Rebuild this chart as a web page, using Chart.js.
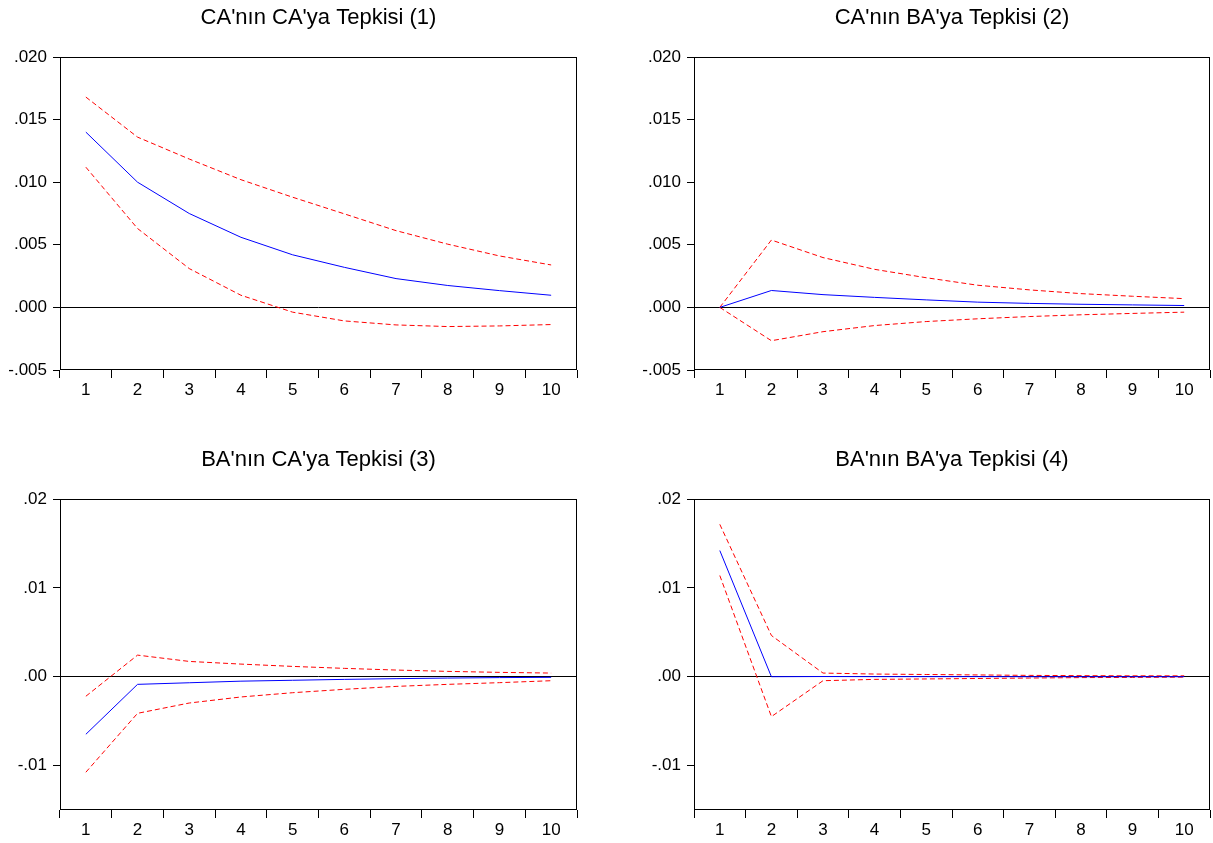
<!DOCTYPE html>
<html>
<head>
<meta charset="utf-8">
<script src="https://cdn.jsdelivr.net/npm/chart.js@4"></script>
<style>
  html, body { margin: 0; background: #fff; overflow: hidden; }
  .panel { position: absolute; }
</style>
</head>
<body>
<div class="panel" style="left:0px;top:0px;width:580px;height:410px"><canvas id="c1"></canvas></div>
<div class="panel" style="left:634px;top:0px;width:579px;height:410px"><canvas id="c2"></canvas></div>
<div class="panel" style="left:0px;top:442px;width:580px;height:408px"><canvas id="c3"></canvas></div>
<div class="panel" style="left:634px;top:442px;width:579px;height:408px"><canvas id="c4"></canvas></div>
<script>
// periods
const steps = ["1", "2", "3", "4", "5", "6", "7", "8", "9", "10"];

// tick labels of the y axes
const ticksTop = [-0.005, 0, 0.005, 0.01, 0.015, 0.02];
const ticksBottom = [-0.01, 0, 0.01, 0.02];

// CA'nın CA'ya Tepkisi
const caCa = [0.0140, 0.0100, 0.0075, 0.0056, 0.0042, 0.0032, 0.0023, 0.00175, 0.00134, 0.00097];
const caCaUp = [0.0168, 0.0136, 0.01185, 0.0102, 0.0088, 0.00747, 0.00613, 0.00505, 0.00411, 0.00339];
const caCaLow = [0.0112, 0.0063, 0.0031, 0.00097, -0.00038, -0.00108, -0.0014, -0.00153, -0.00148, -0.00137];

// CA'nın BA'ya Tepkisi
const caBa = [0, 0.00135, 0.00102, 0.0008, 0.0006, 0.00042, 0.00032, 0.00025, 0.0002, 0.00015];
const caBaUp = [0, 0.00538, 0.00398, 0.00304, 0.00237, 0.00177, 0.0014, 0.0011, 0.00089, 0.0007];
const caBaLow = [0, -0.00266, -0.00194, -0.00145, -0.00113, -0.00091, -0.00073, -0.00059, -0.00048, -0.00038];

// BA'nın CA'ya Tepkisi
const baCa = [-0.00648, -0.00086, -0.00068, -0.0005, -0.0004, -0.0003, -0.00022, -0.00015, -0.0001, -0.00007];
const baCaUp = [-0.0022, 0.00243, 0.00172, 0.00142, 0.00116, 0.00094, 0.00075, 0.0006, 0.00049, 0.00041];
const baCaLow = [-0.01075, -0.00412, -0.00296, -0.00228, -0.0018, -0.00142, -0.00109, -0.00086, -0.00067, -0.00045];

// BA'nın BA'ya Tepkisi
const baBa = [0.0142, 0.0, 0.00002, 0.00001, 0.00001, 0.00001, 0.0, 0.0, 0.0, 0.0];
const baBaUp = [0.01715, 0.00464, 0.00041, 0.0003, 0.00025, 0.0002, 0.00015, 0.00012, 0.0001, 0.0001];
const baBaLow = [0.01139, -0.00449, -0.00045, -0.0003, -0.00025, -0.0002, -0.00015, -0.0001, -0.00008, -0.00005];

const fontFamily = "'Liberation Sans', Arial, sans-serif";

// box round the plot area
const frame = {
    id: "frame",
    afterDraw(chart) {
        const a = chart.chartArea;
        const c = chart.ctx;
        c.save();
        c.strokeStyle = "#000";
        c.lineWidth = 1;
        c.strokeRect(Math.round(a.left) + 0.5, Math.round(a.top) + 0.5,
            Math.round(a.right - a.left) - 1, Math.round(a.bottom - a.top) - 1);
        c.restore();
    }
};

function fmt(v, dec) {
    return Number(v).toFixed(dec).replace(/^(-?)0\./, "$1.");
}

function makePanel(id, title, irf, up, low, yMin, yMax, yTicks, dec) {
    new Chart(document.getElementById(id), {
        type: "line",
        data: {
            labels: steps,
            datasets: [
                { data: irf, borderColor: "#0000ff", borderWidth: 1, pointRadius: 0, tension: 0 },
                { data: up, borderColor: "#ff0000", borderWidth: 1, borderDash: [5, 3], pointRadius: 0, tension: 0 },
                { data: low, borderColor: "#ff0000", borderWidth: 1, borderDash: [5, 3], pointRadius: 0, tension: 0 },
            ],
        },
        options: {
            responsive: true,
            maintainAspectRatio: false,
            animation: false,
            layout: { padding: { left: 0, right: 3, top: 0, bottom: 0 } },
            plugins: {
                legend: { display: false },
                tooltip: { enabled: false },
                title: {
                    display: true,
                    fullSize: false, // centre over the plot, not the canvas
                    text: title,
                    color: "#000",
                    font: { family: fontFamily, size: 22, weight: "normal" },
                    padding: { top: 5, bottom: 25.6 },
                },
            },
            scales: {
                x: {
                    offset: true,
                    grid: { offset: true, drawOnChartArea: false, tickLength: 8, color: "#000" },
                    border: { display: false },
                    ticks: { color: "#000", font: { family: fontFamily, size: 17 }, padding: 2, maxRotation: 0, autoSkip: false },
                    afterFit(s) { s.height = 40; },
                },
                y: {
                    min: yMin,
                    max: yMax,
                    afterBuildTicks(s) { s.ticks = yTicks.map((v) => ({ value: v })); },
                    grid: {
                        color: (c) => (c.tick && c.tick.value === 0 ? "#000" : "rgba(0,0,0,0)"),
                        tickColor: "#000",
                        tickLength: 7,
                    },
                    border: { display: false },
                    ticks: {
                        color: "#000",
                        font: { family: fontFamily, size: 17 },
                        padding: 6,
                        callback: (v) => fmt(v, dec),
                    },
                    afterFit(s) { s.width = 60; },
                },
            },
        },
        plugins: [frame],
    });
}

makePanel("c1", "CA'nın CA'ya Tepkisi (1)", caCa, caCaUp, caCaLow, -0.005, 0.02, ticksTop, 3);
makePanel("c2", "CA'nın BA'ya Tepkisi (2)", caBa, caBaUp, caBaLow, -0.005, 0.02, ticksTop, 3);
makePanel("c3", "BA'nın CA'ya Tepkisi (3)", baCa, baCaUp, baCaLow, -0.015, 0.02, ticksBottom, 2);
makePanel("c4", "BA'nın BA'ya Tepkisi (4)", baBa, baBaUp, baBaLow, -0.015, 0.02, ticksBottom, 2);
</script>
</body>
</html>
